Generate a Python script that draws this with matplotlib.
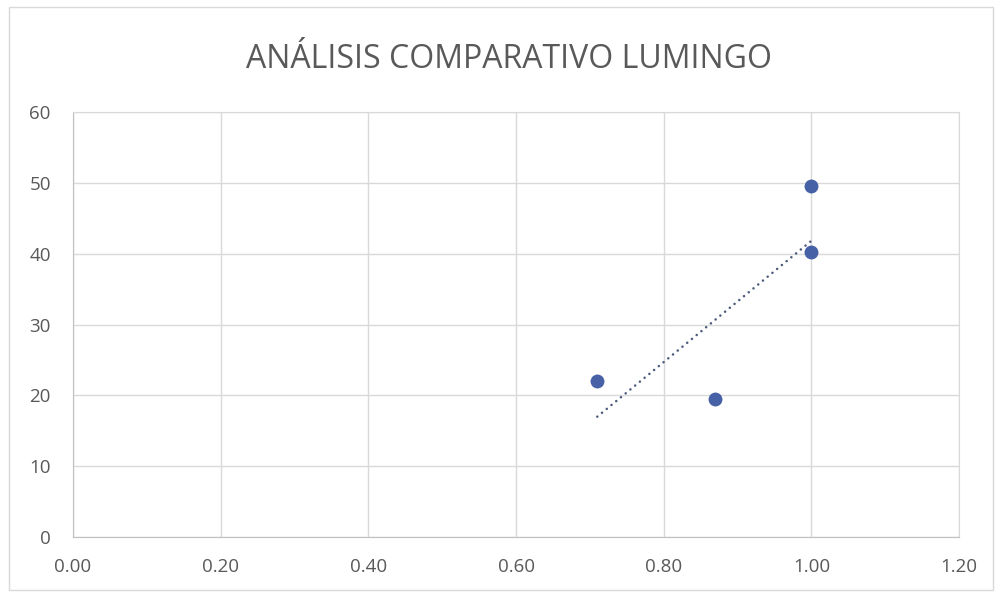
import numpy as np
import matplotlib.pyplot as plt
from matplotlib.patches import Rectangle

# datos del gráfico
x_vals = [0.71, 0.87, 1.00, 1.00]
y_vals = [22.0, 19.5, 49.5, 40.3]
x_ticks = [0.0, 0.2, 0.4, 0.6, 0.8, 1.0, 1.2]
y_ticks = [0, 10, 20, 30, 40, 50, 60]
titulo = 'ANÁLISIS COMPARATIVO LUMINGO'

plt.rcParams['font.family'] = ['Open Sans', 'DejaVu Sans']

fig = plt.figure(figsize=(9.99, 5.92), dpi=100, facecolor='white')
ax = fig.add_axes([0.0731, 0.0929, 0.8869, 0.7179])

# borde del área del gráfico
fig.patches.append(Rectangle((0.009, 0.004), 0.985, 0.985, transform=fig.transFigure,
                             fill=False, edgecolor='#d9d9d9', lw=1.0))

ax.scatter(x_vals, y_vals, s=100, color='#4661a6', zorder=3, linewidths=0)

# línea de tendencia lineal
m, b = np.polyfit(x_vals, y_vals, 1)
xt = np.array([min(x_vals), max(x_vals)])
ax.plot(xt, m * xt + b, color='#4a5a7a', lw=1.8, linestyle=(0, (0.05, 2.4)),
        dash_capstyle='round', zorder=2)

ax.set_xlim(0, 1.2)
ax.set_ylim(0, 60)
ax.set_xticks(x_ticks)
ax.set_yticks(y_ticks)
ax.set_xticklabels([f'{v:.2f}' for v in x_ticks])
ax.set_yticklabels([str(v) for v in y_ticks])
ax.grid(True, color='#d9d9d9', lw=1.0)
ax.set_axisbelow(True)
for s in ax.spines.values():
    s.set_color('#d9d9d9')
ax.spines['left'].set_color('#bfbfbf')
ax.spines['bottom'].set_color('#bfbfbf')
ax.tick_params(length=0, labelsize=13.5, colors='#595959')
ax.tick_params(axis='x', pad=15)
ax.tick_params(axis='y', pad=16)

fig.text(0.51, 0.899, titulo, ha='center', va='center', fontsize=23, color='#595959')

fig.savefig('out.png', dpi=100)
